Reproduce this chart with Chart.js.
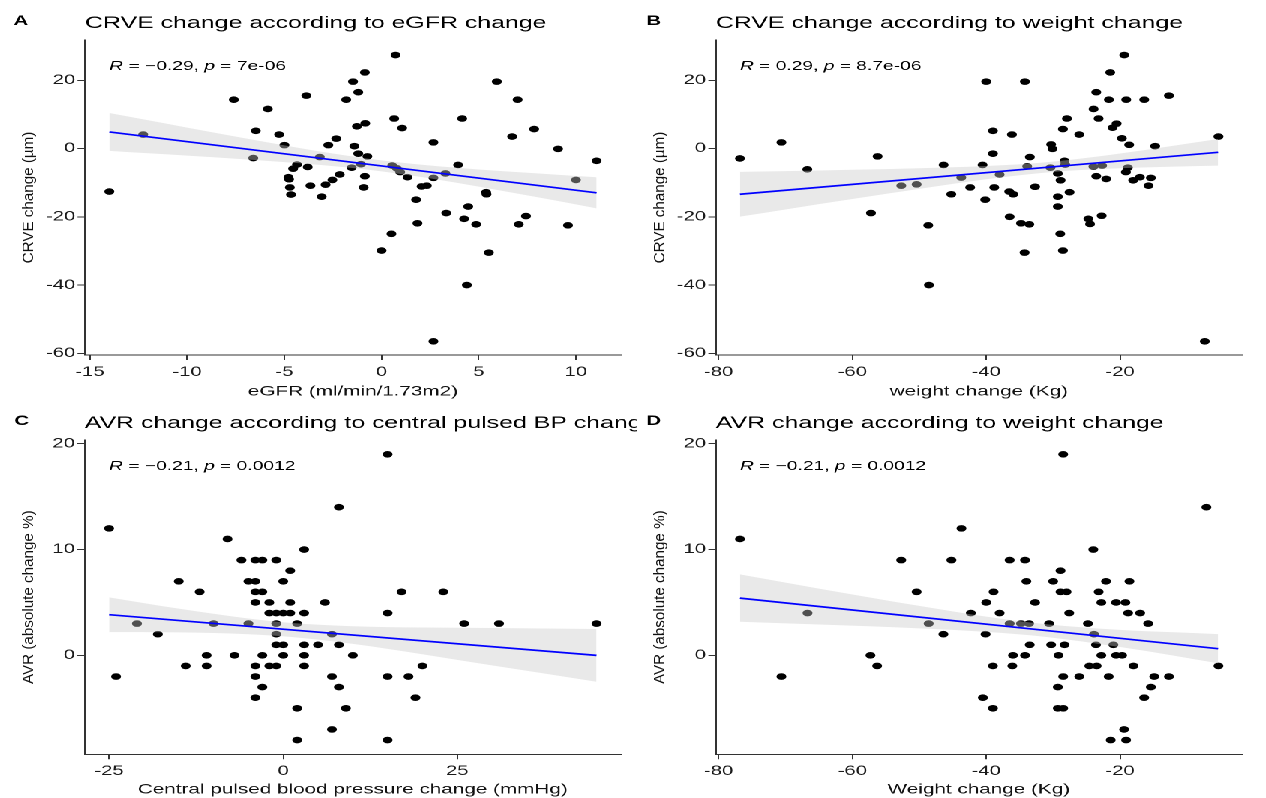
<!DOCTYPE html>
<html><head><meta charset="utf-8">
<script src="https://cdn.jsdelivr.net/npm/chart.js@4.4.1/dist/chart.umd.min.js"></script>
<style>
html,body{margin:0;padding:0;background:#fff;overflow:hidden;width:1266px;height:798px;}
#wrap{position:absolute;left:0;top:0;width:844px;height:798px;transform:scaleX(1.5);transform-origin:0 0;}
.cell{position:absolute;}
.cell canvas{display:block;}
</style></head><body>
<div id="wrap">
<div class="cell" style="left:0;top:0;width:425px;height:400px"><canvas id="cA"></canvas></div>
<div class="cell" style="left:425px;top:0;width:419px;height:400px"><canvas id="cB"></canvas></div>
<div class="cell" style="left:0;top:400px;width:425px;height:398px"><canvas id="cC"></canvas></div>
<div class="cell" style="left:425px;top:400px;width:419px;height:398px"><canvas id="cD"></canvas></div>
</div>
<script>
// ---------- Panel A: CRVE vs eGFR change ----------
const egfrChange = [0.72,-0.86,-1.47,5.93,-1.2,-3.87,-7.6,-1.82,7.0,-5.85,0.65,4.15,-0.84,-1.27,1.06,7.85,-6.47,-5.27,6.72,-2.33,2.67,-2.74,-5.0,-1.4,9.08,-1.2,-0.73,-3.18,-6.6,11.06,-12.26,-14.0,-4.35,-4.55,-3.8,-1.54,-1.06,0.55,0.79,0.96,3.94,3.29,1.34,2.67,10.0,-4.79,-4.76,-2.15,-2.53,-2.88,-0.86,-3.66,-4.72,-0.92,-4.66,-3.08,2.06,2.33,5.38,5.4,1.78,4.46,3.33,4.25,4.87,7.43,7.06,9.59,1.85,0.51,0.0,5.52,4.39,2.67];
const crveByEgfr = [27.4,22.3,19.6,19.6,16.5,15.5,14.3,14.3,14.3,11.6,8.8,8.8,7.4,6.5,6.0,5.7,5.2,4.1,3.5,2.9,1.8,1.0,1.0,0.7,-0.1,-1.5,-2.3,-2.5,-2.8,-3.6,4.1,-12.6,-4.7,-5.9,-5.4,-5.6,-4.6,-5.0,-5.8,-6.9,-4.8,-7.3,-8.4,-8.6,-9.2,-8.4,-9.0,-7.6,-9.2,-10.6,-8.1,-10.9,-11.4,-11.4,-13.5,-14.1,-11.1,-10.9,-12.8,-13.4,-15.0,-17.0,-18.9,-20.6,-22.2,-19.8,-22.2,-22.5,-21.9,-25.0,-29.9,-30.5,-40.0,-56.5];
const fitEgfrX = [-14, 11.06];
const fitEgfrY = [4.86, -12.97];
const bandEgfrX = [-14,-12,-10,-7.5,-5,-2.5,0,2.5,5,8,11.06];
const bandEgfrLow = [-0.69,-1.39,-2.09,-3.01,-4.0,-5.16,-6.69,-8.75,-11.17,-14.25,-17.52];
const bandEgfrHigh = [10.41,8.27,6.13,3.49,0.94,-1.46,-3.49,-4.99,-6.13,-7.29,-8.42];
const ticksEgfr = [-15,-10,-5,0,5,10];

// ---------- Panel B: CRVE vs weight change ----------
const weightChangeB = [-19.38,-21.47,-40.0,-34.22,-23.56,-12.7,-21.67,-19.08,-16.39,-23.96,-27.94,-23.21,-20.52,-21.12,-28.54,-39.0,-36.16,-26.1,-5.3,-19.73,-70.6,-30.3,-18.64,-30.1,-14.76,-39.0,-56.23,-76.8,-33.48,-66.73,-46.37,-40.55,-33.88,-30.4,-28.3,-28.2,-23.98,-22.69,-18.84,-19.13,-29.3,-38.0,-43.73,-23.56,-22.07,-28.89,-18.04,-17.04,-15.4,-15.75,-52.69,-50.4,-42.4,-38.8,-32.7,-36.56,-35.96,-45.22,-27.55,-29.3,-40.15,-29.3,-57.22,-36.5,-22.75,-24.74,-24.49,-34.8,-33.56,-48.66,-28.94,-34.27,-28.54,-48.56,-7.34];
const crveByWeight = [27.4,22.3,19.6,19.6,16.5,15.5,14.3,14.3,14.3,11.6,8.8,8.8,7.3,6.1,5.7,5.2,4.1,4.1,3.5,3.0,1.8,1.2,1.1,-0.1,0.7,-1.5,-2.3,-2.9,-2.5,-6.1,-4.8,-4.8,-5.2,-5.6,-3.6,-4.7,-5.3,-5.0,-5.6,-6.9,-7.3,-7.6,-8.5,-8.1,-8.9,-9.3,-9.3,-8.4,-8.6,-10.9,-10.9,-10.5,-11.4,-11.4,-11.2,-12.6,-13.4,-13.4,-12.8,-14.1,-15.0,-17.0,-18.9,-20.0,-19.7,-20.6,-22.1,-21.9,-22.2,-22.5,-25.0,-30.5,-29.9,-40.0,-56.5];
const fitWeightBX = [-76.8, -5.35];
const fitWeightBY = [-13.4, -1.1];
const bandWeightBX = [-76.8,-70,-60,-50,-40,-31,-22,-14,-5.35];
const bandWeightBLow = [-19.96,-17.85,-14.8,-11.81,-9.01,-7.02,-5.94,-5.42,-5.01];
const bandWeightBHigh = [-6.84,-6.61,-6.22,-5.77,-5.13,-4.02,-2.0,0.22,2.79];
const ticksWeight = [-80,-60,-40,-20];
const ticksCrve = [-60,-40,-20,0,20];

// ---------- Panel C: AVR vs central pulsed BP change ----------
const centralPulsedBpChange = [15,8,-25,-8,3,-6,-4,-3,-1,1,-15,-5,-4,0,-12,-4,-3,17,23,-4,-2,1,6,-2,-1,0,1,3,15,-21,-10,-5,-1,2,26,31,45,-18,-1,7,-1,0,3,5,8,-11,-7,-3,0,3,10,-14,-11,-4,-2,-1,3,20,-24,-4,7,15,18,-3,8,-4,19,2,9,7,2,15];
const avrByBp = [19,14,12,11,10,9,9,9,9,8,7,7,7,7,6,6,6,6,6,5,5,5,5,4,4,4,4,4,4,3,3,3,3,3,3,3,3,2,2,2,1,1,1,1,1,0,0,0,0,0,0,-1,-1,-1,-1,-1,-1,-1,-2,-2,-2,-2,-2,-3,-3,-4,-4,-5,-5,-7,-8,-8];
const fitBpX = [-25, 45];
const fitBpY = [3.84, 0.0];
const bandBpX = [-25,-15,-5,1,10,20,30,45];
const bandBpLow = [2.20,2.17,2.00,1.75,1.09,0.11,-0.95,-2.49];
const bandBpHigh = [5.48,4.41,3.48,3.07,2.75,2.63,2.59,2.49];
const ticksBp = [-25,0,25];
const ticksAvr = [0,10,20];

// ---------- Panel D: AVR vs weight change ----------
const weightChangeD = [-28.5,-7.1,-43.7,-76.8,-24.0,-52.7,-45.2,-36.5,-34.2,-28.9,-34.0,-30.0,-22.1,-18.6,-50.4,-38.9,-28.9,-28.0,-23.2,-40.0,-32.7,-22.8,-20.6,-19.2,-42.3,-38.0,-27.6,-18.8,-17.0,-66.7,-48.6,-36.5,-34.8,-33.6,-30.6,-24.8,-15.8,-46.4,-40.1,-23.9,-33.5,-30.3,-28.3,-23.6,-21.0,-57.3,-36.0,-34.2,-29.2,-22.8,-20.6,-19.7,-56.3,-39.0,-36.1,-24.6,-23.5,-18.0,-5.3,-70.6,-28.5,-26.1,-21.7,-14.9,-12.7,-29.3,-15.4,-40.5,-16.4,-39.0,-29.3,-28.5,-19.4,-21.4,-19.1];
const avrByWeight = [19,14,12,11,10,9,9,9,9,8,7,7,7,7,6,6,6,6,6,5,5,5,5,5,4,4,4,4,4,4,3,3,3,3,3,3,3,2,2,2,1,1,1,1,1,0,0,0,0,0,0,0,-1,-1,-1,-1,-1,-1,-1,-2,-2,-2,-2,-2,-2,-3,-3,-4,-4,-5,-5,-5,-7,-8,-8];
const fitWeightDX = [-76.8, -5.35];
const fitWeightDY = [5.41, 0.63];
const bandWeightDX = [-76.8,-65,-50,-40,-31,-20,-12,-5.35];
const bandWeightDLow = [3.17,2.91,2.55,2.22,1.74,0.79,-0.02,-0.75];
const bandWeightDHigh = [7.65,6.31,4.67,3.66,2.94,2.41,2.18,2.01];

// ---------- rendering ----------
const STRETCH = 1.5;
const FONT = '"Liberation Sans", Arial, Helvetica, sans-serif';
Chart.defaults.font.family = FONT;

const zip = (xs, ys) => xs.map((x, i) => ({x: x, y: ys[i]}));

const panelText = {
  id: 'panelText',
  afterDraw(chart, args, o) {
    const ctx = chart.ctx, ca = chart.chartArea;
    ctx.save();
    ctx.fillStyle = '#000';
    ctx.textAlign = 'left';
    ctx.textBaseline = 'middle';
    ctx.font = 'bold 13.5px ' + FONT;
    ctx.fillText(o.tag, o.tagX, 21.5);
    ctx.font = '16.6px ' + FONT;
    ctx.fillText(o.title, ca.left, 23.5);
    // correlation annotation
    let x = chart.scales.x.getPixelForValue(o.annX);
    const y = ca.top + 26.5;
    o.ann.forEach(([t, it]) => {
      ctx.font = (it ? 'italic ' : '') + '12.8px ' + FONT;
      ctx.fillText(t, x, y);
      x += ctx.measureText(t).width;
    });
    // y-axis title (not stretched)
    ctx.translate(ca.left - 37.2, (ca.top + ca.bottom) / 2);
    ctx.scale(1 / STRETCH, 1);
    ctx.rotate(-Math.PI / 2);
    ctx.textAlign = 'center';
    ctx.font = '15.2px ' + FONT;
    ctx.fillStyle = '#111';
    ctx.fillText(o.yTitle, 0, 0);
    ctx.restore();
  }
};

function makePanel(id, w, h, p) {
  const cv = document.getElementById(id);
  cv.width = w; cv.height = h;
  cv.style.width = w + 'px'; cv.style.height = h + 'px';
  const axisCommon = {
    type: 'linear',
    grid: {display: true, drawOnChartArea: false, drawTicks: true, tickLength: 5, color: '#333', lineWidth: 1},
    border: {display: true, color: '#333', width: 1}
  };
  new Chart(cv, {
    type: 'scatter',
    data: {
      datasets: [
        {type: 'line', data: zip(p.fitX, p.fitY), borderColor: '#0000ff', borderWidth: 1.7,
         pointRadius: 0, fill: false, tension: 0, order: 0},
        {type: 'line', data: zip(p.bandX, p.bandHigh), borderWidth: 0, borderColor: 'rgba(0,0,0,0)',
         pointRadius: 0, fill: '+1', backgroundColor: 'rgba(200,200,200,0.4)', cubicInterpolationMode: 'monotone', order: 1},
        {type: 'line', data: zip(p.bandX, p.bandLow), borderWidth: 0, borderColor: 'rgba(0,0,0,0)',
         pointRadius: 0, fill: false, cubicInterpolationMode: 'monotone', order: 1},
        {type: 'scatter', data: zip(p.xs, p.ys), pointRadius: 3.3, pointHoverRadius: 3.3,
         backgroundColor: '#000', borderWidth: 0, order: 2}
      ]
    },
    options: {
      responsive: false, animation: false, devicePixelRatio: 2,
      events: [],
      layout: {padding: {left: 0, top: 40, right: p.padRight, bottom: 0}},
      plugins: {
        legend: {display: false}, tooltip: {enabled: false},
        panelText: {tag: p.tag, tagX: p.tagX, title: p.title, ann: p.ann, annX: Math.min(...p.xs), yTitle: p.yTitle}
      },
      scales: {
        x: Object.assign({}, axisCommon, {
          min: p.xMin, max: p.xMax,
          afterBuildTicks: s => { s.ticks = p.xTicks.map(v => ({value: v})); },
          afterFit: s => { s.height = p.xAxisH; },
          ticks: {color: '#1a1a1a', font: {size: 13.5}, padding: 4, maxRotation: 0, autoSkip: false},
          title: {display: true, text: p.xTitle, color: '#111', font: {size: 13.8}, padding: {top: 0, bottom: 0}}
        }),
        y: Object.assign({}, axisCommon, {
          min: p.yMin, max: p.yMax,
          afterBuildTicks: s => { s.ticks = p.yTicks.map(v => ({value: v})); },
          afterFit: s => { s.width = p.yAxisW; },
          ticks: {color: '#1a1a1a', font: {size: 13.5}, padding: 1.5, autoSkip: false}
        })
      }
    },
    plugins: [panelText]
  });
}

makePanel('cA', 425, 400, {
  tag: 'A', tagX: 9, title: 'CRVE change according to eGFR change',
  ann: [['R', true], [' = \u22120.29, ', false], ['p', true], [' = 7e-06', false]],
  xTitle: 'eGFR (ml/min/1.73m2)', yTitle: 'CRVE change (\u00b5m)',
  xs: egfrChange, ys: crveByEgfr, fitX: fitEgfrX, fitY: fitEgfrY,
  bandX: bandEgfrX, bandLow: bandEgfrLow, bandHigh: bandEgfrHigh,
  xMin: -15.25, xMax: 12.31, yMin: -60.5, yMax: 31.8, xTicks: ticksEgfr, yTicks: ticksCrve,
  yAxisW: 56.6, xAxisH: 45, padRight: 11
});
makePanel('cB', 419, 400, {
  tag: 'B', tagX: 6, title: 'CRVE change according to weight change',
  ann: [['R', true], [' = 0.29, ', false], ['p', true], [' = 8.7e-06', false]],
  xTitle: 'weight change (Kg)', yTitle: 'CRVE change (\u00b5m)',
  xs: weightChangeB, ys: crveByWeight, fitX: fitWeightBX, fitY: fitWeightBY,
  bandX: bandWeightBX, bandLow: bandWeightBLow, bandHigh: bandWeightBHigh,
  xMin: -80.4, xMax: -1.8, yMin: -60.5, yMax: 31.8, xTicks: ticksWeight, yTicks: ticksCrve,
  yAxisW: 52.3, xAxisH: 45, padRight: 16
});
makePanel('cC', 425, 398, {
  tag: 'C', tagX: 9.5, title: 'AVR change according to central pulsed BP change',
  ann: [['R', true], [' = \u22120.21, ', false], ['p', true], [' = 0.0012', false]],
  xTitle: 'Central pulsed blood pressure change (mmHg)', yTitle: 'AVR (absolute change %)',
  xs: centralPulsedBpChange, ys: avrByBp, fitX: fitBpX, fitY: fitBpY,
  bandX: bandBpX, bandLow: bandBpLow, bandHigh: bandBpHigh,
  xMin: -28.5, xMax: 48.5, yMin: -9.35, yMax: 20.35, xTicks: ticksBp, yTicks: ticksAvr,
  yAxisW: 56.4, xAxisH: 43.7, padRight: 11
});
makePanel('cD', 419, 398, {
  tag: 'D', tagX: 6, title: 'AVR change according to weight change',
  ann: [['R', true], [' = \u22120.21, ', false], ['p', true], [' = 0.0012', false]],
  xTitle: 'Weight change (Kg)', yTitle: 'AVR (absolute change %)',
  xs: weightChangeD, ys: avrByWeight, fitX: fitWeightDX, fitY: fitWeightDY,
  bandX: bandWeightDX, bandLow: bandWeightDLow, bandHigh: bandWeightDHigh,
  xMin: -80.4, xMax: -1.8, yMin: -9.35, yMax: 20.35, xTicks: ticksWeight, yTicks: ticksAvr,
  yAxisW: 52.3, xAxisH: 43.7, padRight: 16
});
</script>
</body></html>
